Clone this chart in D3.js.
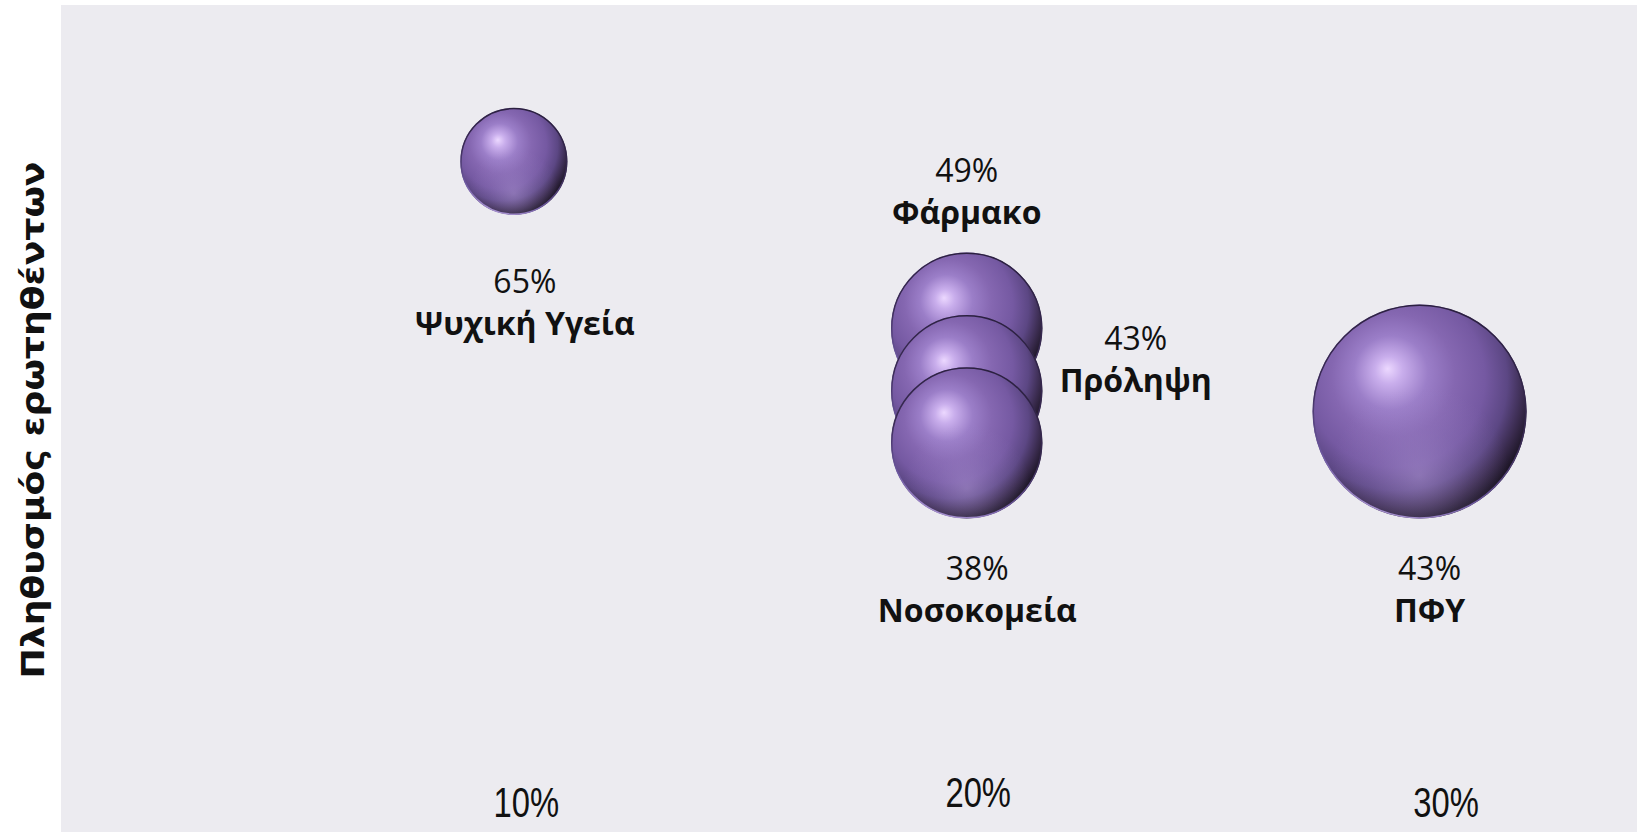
<!DOCTYPE html>
<html>
<head>
<meta charset="utf-8">
<script src="https://cdn.jsdelivr.net/npm/d3@7"></script>
<style>
  html, body { margin: 0; padding: 0; background: #fff; }
  svg { display: block; }
</style>
</head>
<body>
<div id="chart"></div>
<script>
// data
const names = ['Ψυχική Υγεία', 'Φάρμακο', 'Πρόληψη', 'Νοσοκομεία', 'ΠΦΥ'];
const xValues = [10, 20, 20, 20, 30];
const yValues = [65, 49, 43, 38, 41];
const sizes = [1, 2, 2, 2, 4];
const shares = ['65%', '49%', '43%', '38%', '43%'];
const xTicks = [10, 20, 30];
const yTitle = 'Πληθυσμός ερωτηθέντων';

const w = 1637;
const h = 832;

// label placement (offset of the % line from the bubble centre), set by hand like the original
const labelNudge = {
  'Ψυχική Υγεία': [11, 131.5],
  'Φάρμακο': [0, -146.5],
  'Πρόληψη': [169, -40.5],
  'Νοσοκομεία': [10.5, 137],
  'ΠΦΥ': [10, 168.5]
};
const tickNudge = {10: [12, 0], 20: [11, -10], 30: [26, 0]};

const rows = names.map((n, i) => ({
  name: n, x: xValues[i], y: yValues[i], size: sizes[i], share: shares[i]
}));

const svg = d3.select('#chart')
  .append('svg')
  .attr('width', w)
  .attr('height', h);

const xScale = d3.scaleLinear().domain([0, 35]).range([61, 1646]);
const yScale = d3.scaleLinear().domain([0, 80]).range([839, 5]);
const rScale = d3.scaleSqrt().domain([0, 4]).range([0, 107]);

// plot area
svg.append('rect')
  .attr('x', xScale(0))
  .attr('y', yScale(80))
  .attr('width', xScale(35) - xScale(0))
  .attr('height', yScale(0) - yScale(80))
  .attr('fill', '#ecebf0');

// sphere shading
const defs = svg.append('defs');
const body = defs.append('radialGradient')
  .attr('id', 'sphere')
  .attr('cx', '41%').attr('cy', '37%').attr('r', '64%')
  .attr('fx', '35%').attr('fy', '30%');
[[0, '#ecd8ff'], [0.1, '#c9aeec'], [0.27, '#9b7ec8'], [0.45, '#8567b1'],
 [0.65, '#7559a2'], [0.8, '#5c4784'], [0.92, '#37294a'], [1, '#1c1525']]
  .forEach(s => body.append('stop').attr('offset', s[0]).attr('stop-color', s[1]));

const glow = defs.append('radialGradient')
  .attr('id', 'glow')
  .attr('cx', '50%').attr('cy', '80%').attr('r', '42%');
[[0, '#b7a0dc', 0.45], [0.55, '#a58dd0', 0.18], [1, '#a58dd0', 0]]
  .forEach(s => glow.append('stop').attr('offset', s[0])
    .attr('stop-color', s[1]).attr('stop-opacity', s[2]));

const rim = defs.append('linearGradient')
  .attr('id', 'rim')
  .attr('x1', 0.6).attr('y1', 0).attr('x2', 0.3).attr('y2', 1);
[[0, '#2b2040'], [0.5, '#3a2b55'], [0.8, '#6d58a0'], [1, '#b09ad8']]
  .forEach(s => rim.append('stop').attr('offset', s[0]).attr('stop-color', s[1]));

const bubbles = svg.append('g')
  .selectAll('g')
  .data(rows.slice().sort((a, b) => b.y - a.y))
  .enter()
  .append('g')
  .attr('transform', d => `translate(${xScale(d.x)},${yScale(d.y)})`);

bubbles.append('circle')
  .attr('r', d => rScale(d.size))
  .attr('fill', 'url(#sphere)');
bubbles.append('circle')
  .attr('r', d => rScale(d.size))
  .attr('fill', 'url(#glow)');
bubbles.append('circle')
  .attr('r', d => rScale(d.size) - 0.7)
  .attr('fill', 'none')
  .attr('stroke', 'url(#rim)')
  .attr('stroke-width', 1.5);

// data labels
const labels = svg.append('g')
  .selectAll('g')
  .data(rows)
  .enter()
  .append('g')
  .attr('transform', d => {
    const n = labelNudge[d.name];
    return `translate(${xScale(d.x) + n[0]},${yScale(d.y) + n[1]})`;
  })
  .attr('text-anchor', 'middle')
  .style('font-family', '"Open Sans", "Noto Sans", sans-serif')
  .style('font-size', '32px')
  .attr('fill', '#111');
labels.append('text')
  .text(d => d.share);
labels.append('text')
  .attr('y', 42)
  .style('font-weight', 'bold')
  .text(d => d.name);

// x axis: labels only
const xAxis = d3.axisBottom(xScale)
  .tickValues(xTicks)
  .tickFormat(d => d + '%')
  .tickSize(0);
const gx = svg.append('g')
  .attr('transform', `translate(0,817)`)
  .call(xAxis);
gx.select('.domain').remove();
gx.selectAll('.tick text')
  .attr('y', d => tickNudge[d][1])
  .attr('dy', 0)
  .attr('x', d => tickNudge[d][0])
  .attr('fill', '#111')
  .style('font-family', '"Liberation Sans", Arial, sans-serif')
  .style('font-size', '42px')
  .each(function() {
    const len = this.getComputedTextLength();
    d3.select(this)
      .attr('textLength', len * 0.78)
      .attr('lengthAdjust', 'spacingAndGlyphs');
  });

// y title
svg.append('text')
  .text(yTitle)
  .attr('transform', 'translate(44,420) rotate(-90)')
  .attr('text-anchor', 'middle')
  .attr('fill', '#111')
  .attr('textLength', 517)
  .attr('lengthAdjust', 'spacingAndGlyphs')
  .style('font-family', '"DejaVu Sans", Verdana, sans-serif')
  .style('font-weight', 'bold')
  .style('font-size', '32px');
</script>
</body>
</html>
